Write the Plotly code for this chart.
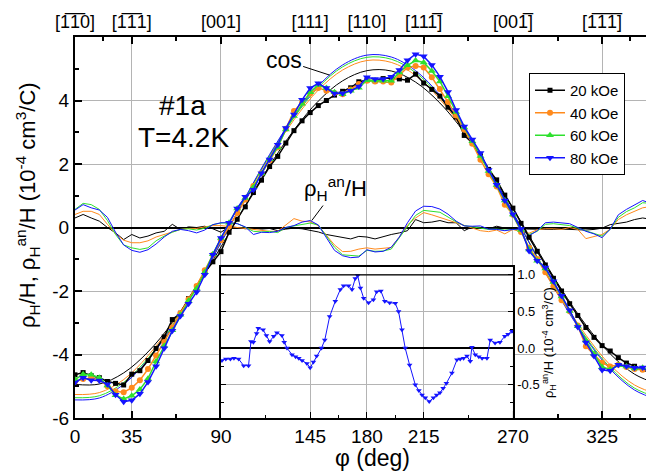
import plotly.graph_objects as go

# ---------------- data ----------------
PHI = list(range(0, 360, 5))          # angle grid of the measured curves (deg)
PHI_FIT = list(range(0, 361, 15))     # angle grid of the cos-fit curves (deg)
FIELDS = ["20 kOe", "40 kOe", "60 kOe", "80 kOe"]

DATA_20 = [-4.64, -4.57, -4.67, -4.73, -4.85, -4.91, -4.96, -4.62, -4.51, -4.19,
           -3.81, -3.45, -2.90, -2.70, -2.24, -1.87, -1.42, -1.08, -0.76, -0.15,
           0.26, 0.65, 1.10, 1.49, 1.92, 2.24, 2.66, 3.05, 3.36, 3.62,
           3.84, 4.00, 4.17, 4.29, 4.40, 4.59, 4.64, 4.62, 4.69, 4.71,
           4.68, 4.64, 4.83, 4.55, 4.35, 4.14, 3.79, 3.48, 2.90, 2.66,
           2.26, 1.83, 1.50, 1.02, 0.61, 0.13, -0.31, -0.75, -1.18, -1.60,
           -2.00, -2.40, -2.77, -3.15, -3.46, -3.72, -3.89, -4.10, -4.27, -4.37,
           -4.46, -4.61]
DATA_40 = [-4.85, -4.77, -4.75, -4.79, -5.00, -5.16, -5.19, -5.05, -4.81, -4.46,
           -4.03, -3.61, -3.15, -2.70, -2.26, -1.84, -1.35, -0.86, -0.40, 0.03,
           0.46, 0.88, 1.31, 1.71, 2.11, 2.52, 3.11, 3.67, 3.93, 4.22,
           4.39, 4.31, 4.24, 4.20, 4.35, 4.52, 4.62, 4.60, 4.60, 4.57,
           4.80, 5.04, 5.09, 5.04, 4.73, 4.36, 3.95, 3.53, 3.09, 2.64,
           2.13, 1.68, 1.29, 0.72, 0.40, -0.14, -0.64, -0.99, -1.41, -1.85,
           -2.29, -2.64, -3.09, -3.74, -4.01, -4.26, -4.38, -4.32, -4.39, -4.46,
           -4.48, -4.54]
DATA_60 = [-4.79, -4.62, -4.64, -4.73, -4.98, -5.28, -5.40, -5.30, -5.10, -4.76,
           -4.22, -3.73, -3.24, -2.75, -2.31, -1.92, -1.41, -0.84, -0.33, 0.15,
           0.60, 0.93, 1.27, 1.70, 2.15, 2.53, 3.09, 3.51, 3.90, 4.26,
           4.49, 4.39, 4.26, 4.20, 4.31, 4.40, 4.64, 4.63, 4.62, 4.62,
           4.88, 5.11, 5.26, 5.20, 4.93, 4.60, 4.13, 3.64, 3.15, 2.72,
           2.25, 1.78, 1.34, 0.85, 0.41, -0.08, -0.69, -1.05, -1.29, -1.72,
           -2.17, -2.63, -3.11, -3.56, -3.98, -4.39, -4.47, -4.34, -4.38, -4.44,
           -4.42, -4.54]
DATA_80 = [-4.88, -4.73, -4.81, -4.82, -4.94, -5.27, -5.49, -5.44, -5.24, -4.87,
           -4.37, -3.80, -3.25, -2.79, -2.40, -2.03, -1.49, -0.86, -0.33, 0.15,
           0.60, 0.97, 1.19, 1.71, 2.14, 2.61, 3.13, 3.56, 4.02, 4.39,
           4.54, 4.39, 4.22, 4.23, 4.31, 4.44, 4.73, 4.68, 4.68, 4.75,
           4.96, 5.27, 5.46, 5.39, 5.12, 4.75, 4.27, 3.70, 3.18, 2.77,
           2.35, 1.81, 1.35, 0.85, 0.42, -0.05, -0.74, -1.05, -1.26, -1.69,
           -2.15, -2.61, -3.13, -3.62, -4.05, -4.49, -4.51, -4.32, -4.37, -4.42,
           -4.41, -4.61]

AN_20 = [0.30, 0.41, 0.30, 0.20, 0.00, -0.17, -0.38, -0.22, -0.33, -0.27,
         -0.17, -0.12, 0.10, -0.06, 0.02, 0.00, 0.04, -0.04, -0.15, 0.02,
         0.00, -0.04, -0.02, -0.05, -0.03, -0.10, -0.05, -0.02, -0.04, -0.08,
         -0.14, -0.22, -0.27, -0.33, -0.36, -0.28, -0.30, -0.36, -0.28, -0.22,
         -0.17, -0.10, 0.25, 0.15, 0.17, 0.22, 0.15, 0.15, -0.10, 0.02,
         0.00, -0.04, 0.04, -0.02, 0.00, -0.04, -0.05, -0.06, -0.06, -0.06,
         -0.05, -0.06, -0.06, -0.08, -0.06, -0.02, 0.09, 0.12, 0.17, 0.25,
         0.30, 0.26]
AN_40 = [0.41, 0.51, 0.51, 0.41, 0.10, -0.20, -0.40, -0.48, -0.48, -0.42,
         -0.30, -0.22, -0.12, -0.06, -0.03, -0.03, 0.02, 0.06, 0.06, 0.03,
         0.00, -0.04, -0.06, -0.10, -0.12, -0.12, 0.08, 0.28, 0.20, 0.18,
         0.06, -0.26, -0.55, -0.76, -0.75, -0.68, -0.64, -0.68, -0.66, -0.63,
         -0.30, 0.08, 0.30, 0.47, 0.40, 0.32, 0.22, 0.14, 0.06, 0.00,
         -0.10, -0.13, -0.08, -0.20, -0.06, -0.14, -0.18, -0.07, -0.04, -0.04,
         -0.06, 0.00, -0.06, -0.35, -0.28, -0.22, -0.05, 0.25, 0.40, 0.50,
         0.62, 0.66]
AN_60 = [0.57, 0.76, 0.72, 0.57, 0.22, -0.22, -0.55, -0.64, -0.69, -0.64,
         -0.42, -0.27, -0.15, -0.06, -0.04, -0.08, -0.02, 0.09, 0.14, 0.15,
         0.13, 0.00, -0.12, -0.14, -0.12, -0.16, 0.00, 0.05, 0.10, 0.14,
         0.08, -0.27, -0.62, -0.86, -0.89, -0.90, -0.72, -0.75, -0.74, -0.68,
         -0.32, 0.05, 0.38, 0.54, 0.52, 0.48, 0.33, 0.18, 0.06, 0.03,
         -0.02, -0.06, -0.05, -0.08, -0.06, -0.08, -0.22, -0.12, 0.10, 0.12,
         0.10, 0.06, -0.02, -0.10, -0.18, -0.27, -0.06, 0.32, 0.50, 0.62,
         0.78, 0.76]
AN_80 = [0.55, 0.72, 0.62, 0.55, 0.32, -0.15, -0.55, -0.72, -0.78, -0.70,
         -0.52, -0.30, -0.12, -0.06, -0.10, -0.17, -0.08, 0.09, 0.15, 0.15,
         0.12, 0.02, -0.22, -0.15, -0.16, -0.12, 0.00, 0.06, 0.17, 0.22,
         0.08, -0.33, -0.72, -0.89, -0.95, -0.93, -0.70, -0.77, -0.75, -0.62,
         -0.30, 0.15, 0.52, 0.67, 0.66, 0.58, 0.42, 0.20, 0.05, 0.04,
         0.05, -0.05, -0.06, -0.10, -0.06, -0.05, -0.26, -0.10, 0.15, 0.17,
         0.15, 0.12, 0.00, -0.12, -0.20, -0.32, -0.05, 0.40, 0.57, 0.70,
         0.85, 0.76]

FIT_20 = [-4.94, -4.93, -4.58, -3.92, -3.00, -1.87, -0.61, 0.69, 1.95, 3.07, 3.98, 4.62, 4.94,
          4.93, 4.58, 3.92, 3.00, 1.87, 0.61, -0.69, -1.95, -3.07, -3.98, -4.62, -4.94]
FIT_40 = [-5.26, -5.20, -4.79, -4.04, -3.03, -1.81, -0.46, 0.92, 2.23, 3.39, 4.33, 4.96, 5.26,
          5.20, 4.79, 4.04, 3.03, 1.81, 0.46, -0.92, -2.23, -3.39, -4.33, -4.96, -5.26]
FIT_60 = [-5.36, -5.30, -4.88, -4.12, -3.09, -1.84, -0.47, 0.93, 2.27, 3.46, 4.41, 5.06, 5.36,
          5.30, 4.88, 4.12, 3.09, 1.84, 0.47, -0.93, -2.27, -3.46, -4.41, -5.06, -5.36]
FIT_80 = [-5.43, -5.37, -4.94, -4.17, -3.13, -1.86, -0.48, 0.95, 2.30, 3.50, 4.46, 5.12, 5.43,
          5.37, 4.94, 4.17, 3.13, 1.86, 0.48, -0.95, -2.30, -3.50, -4.46, -5.12, -5.43]

INSET_PHI = [90.6, 93, 95.8, 98, 100.9, 104, 107, 108.5, 110, 112, 113, 116, 118, 120, 122.5,
             124.5, 127.6, 129, 130.7, 133.8, 136, 138, 140, 143, 145, 147, 149, 152, 154, 157,
             160.5, 163.6, 165.6, 168.7, 170.8, 172.8, 174.3, 176, 178, 181, 184, 186, 188.6,
             191, 194, 197.5, 199.5, 201.6, 203.6, 206.3, 209.8, 212, 214, 216, 218.4, 221,
             223, 225, 227, 229, 232.4, 235.5, 237.5, 239.6, 241.7, 243.7, 244.7, 246.8, 249,
             251, 254, 256, 259, 262, 265, 267, 269.4]
INSET_AN = [-0.17, -0.15, -0.15, -0.14, -0.15, -0.24, -0.24, 0.09, 0.08, 0.20, 0.27, 0.25, 0.17,
            0.09, 0.16, 0.21, 0.17, 0.08, 0.00, -0.09, -0.12, -0.14, -0.17, -0.21, -0.27, -0.19,
            -0.11, 0.00, 0.11, 0.43, 0.64, 0.80, 0.85, 0.85, 0.80, 0.95, 0.99, 0.82, 0.68, 0.62,
            0.66, 0.77, 0.78, 0.64, 0.62, 0.61, 0.50, 0.25, 0.00, -0.23, -0.50, -0.58, -0.64,
            -0.68, -0.73, -0.68, -0.64, -0.61, -0.55, -0.48, -0.34, -0.16, -0.15, -0.14, -0.11,
            -0.18, 0.01, -0.09, -0.12, -0.14, -0.14, 0.11, 0.07, 0.08, 0.16, 0.19, 0.23]

X_TICKS = [0, 35, 90, 145, 180, 215, 270, 325]
X_MINOR = [17.5, 62.5, 117.5, 162.5, 197.5, 242.5, 297.5, 342.5]
X_LABELS = ["0", "35", "90", "145", "180", "215", "270", "325"]
OB = "\u0305"
TOP_LABELS = ["[1" + OB + "1" + OB + "0]", "[1" + OB + "1" + OB + "1]", "[001]", "[111]",
              "[110]", "[111" + OB + "]", "[001" + OB + "]", "[1" + OB + "1" + OB + "1" + OB + "]"]
Y_TICKS = [-6, -4, -2, 0, 2, 4]
Y_LABELS = ["-6", "-4", "-2", "0", "2", "4"]
INSET_X_TICKS = [145, 180, 215]
INSET_Y_TICKS = [-0.5, 0.0, 0.5, 1.0]
INSET_Y_LABELS = ["-0.5", "0.0", "0.5", "1.0"]

# ---------------- styling ----------------
FONT = "Liberation Sans, Arial, Helvetica, sans-serif"
COLORS = ["#000000", "#ff8a1c", "#2ee02e", "#1414ff"]
SYMBOLS = ["square", "circle", "triangle-up", "triangle-down"]
MSIZES = [5, 6, 7, 7]
GRID = "#b4b4b4"
PAGE_OFF = 8                      # default body margin of the html page
W, H = 654 - PAGE_OFF, 475 - PAGE_OFF
ML, MR, MT, MB = 75 - PAGE_OFF, 0, 37 - PAGE_OFF, 57
XMAX = 357
INSET_X = (90, 270)
INSET_YR = (-0.955, 1.105)
INSET_TOP = 0.396
PW, PH = W - ML - MR, H - MT - MB


def px_x(p):   # page pixel -> paper x
    return (p - PAGE_OFF - ML) / PW


def px_y(p):   # page pixel -> paper y
    return (H - MB - (p - PAGE_OFF)) / PH


fig = go.Figure()
fits = [FIT_20, FIT_40, FIT_60, FIT_80]
ans = [AN_20, AN_40, AN_60, AN_80]
datas = [DATA_20, DATA_40, DATA_60, DATA_80]

for fit, col in zip(fits, COLORS):
    fig.add_trace(go.Scatter(x=PHI_FIT, y=fit, mode="lines", showlegend=False,
                             line=dict(color=col, width=1, shape="spline")))
for an, col in zip(ans, COLORS):
    fig.add_trace(go.Scatter(x=PHI, y=an, mode="lines", showlegend=False,
                             line=dict(color=col, width=1)))
for name, d, col, sym, ms in zip(FIELDS, datas, COLORS, SYMBOLS, MSIZES):
    fig.add_trace(go.Scatter(x=PHI, y=d, mode="lines+markers", name=name,
                             line=dict(color=col, width=1.5),
                             marker=dict(symbol=sym, size=ms, color=col, line=dict(width=0))))

fig.add_trace(go.Scatter(x=INSET_PHI, y=INSET_AN, mode="lines+markers", showlegend=False,
                         xaxis="x2", yaxis="y2",
                         line=dict(color=COLORS[3], width=1),
                         marker=dict(symbol="triangle-down", size=5, color=COLORS[3])))
# carrier for the top (crystal direction) axis
fig.add_trace(go.Scatter(x=[X_TICKS[0]], y=[None], xaxis="x3", yaxis="y", mode="markers",
                         showlegend=False, hoverinfo="skip"))

axis_common = dict(ticks="inside", showline=True, linecolor="black", tickcolor="black",
                   tickfont=dict(family=FONT, size=19, color="black"))

fig.update_layout(
    width=W, height=H,
    margin=dict(l=ML, r=MR, t=MT, b=MB),
    paper_bgcolor="white", plot_bgcolor="white",
    font=dict(family=FONT, color="black"),
    xaxis=dict(range=[0, XMAX], domain=[0, 1], tickmode="array", tickvals=X_TICKS,
               ticktext=X_LABELS, ticklen=7, tickwidth=1.5, linewidth=2,
               showgrid=True, gridcolor=GRID, gridwidth=1.2, zeroline=False,
               minor=dict(tickvals=X_MINOR, ticks="inside", ticklen=4, tickcolor="black",
                          showgrid=False),
               **axis_common),
    xaxis3=dict(range=[0, XMAX], overlaying="x", side="top", anchor="y",
                tickmode="array", tickvals=X_TICKS, ticktext=TOP_LABELS, ticklen=7,
                tickwidth=1.5, linewidth=2, showgrid=False, zeroline=False,
                minor=dict(tickvals=X_MINOR, ticks="inside", ticklen=4, tickcolor="black"),
                ticks="inside", showline=True, linecolor="black", tickcolor="black",
                tickfont=dict(family=FONT, size=18, color="black")),
    yaxis=dict(range=[-6, 6], domain=[0, 1], tickmode="array", tickvals=Y_TICKS,
               ticktext=Y_LABELS, ticklen=7, tickwidth=1.5, linewidth=2,
               showgrid=True, gridcolor=GRID, gridwidth=1.2,
               zeroline=True, zerolinecolor="black", zerolinewidth=2,
               minor=dict(dtick=1, ticks="inside", ticklen=4, tickcolor="black",
                          showgrid=False),
               **axis_common),
    xaxis2=dict(domain=[INSET_X[0] / XMAX, INSET_X[1] / XMAX], anchor="y2",
                range=list(INSET_X), tickmode="array", tickvals=INSET_X_TICKS,
                showticklabels=False, ticks="inside", ticklen=6, tickcolor="black",
                showline=True, mirror=True, linecolor="black", linewidth=1.5,
                showgrid=True, gridcolor=GRID, gridwidth=1.2, zeroline=False,
                minor=dict(tickvals=[117.5, 162.5, 197.5, 242.5], ticks="inside",
                           ticklen=3, tickcolor="black")),
    yaxis2=dict(domain=[0, INSET_TOP], anchor="x2", side="right", range=list(INSET_YR),
                tickmode="array", tickvals=INSET_Y_TICKS, ticktext=INSET_Y_LABELS,
                ticks="inside", ticklen=5, tickcolor="black",
                showline=True, mirror="ticks", linecolor="black", linewidth=1.5,
                showgrid=True, gridcolor=GRID, gridwidth=1.2,
                zeroline=True, zerolinecolor="black", zerolinewidth=1.5,
                minor=dict(dtick=0.25, ticks="inside", ticklen=3, tickcolor="black"),
                tickfont=dict(family=FONT, size=13, color="black"),
                title=dict(text="ρ<sub>H</sub><sup>an</sup>/H (10<sup>-4</sup> cm<sup>3</sup>/C)",
                           font=dict(family=FONT, size=13, color="black"), standoff=4)),
    legend=dict(x=px_x(529), y=px_y(73), xanchor="left", yanchor="top",
                bgcolor="white", bordercolor="black", borderwidth=1,
                font=dict(family=FONT, size=15, color="black"), tracegroupgap=0),
    showlegend=True,
)

# horizontal black line at 1.0 of the inset
fig.add_shape(type="line", xref="x2", yref="y2", x0=INSET_X[0], x1=INSET_X[1], y0=1.0, y1=1.0,
              line=dict(color="black", width=1.2), layer="above")

fig.add_annotation(text="ρ<sub>H</sub>/H, ρ<sub>H</sub><sup>an</sup>/H (10<sup>-4</sup> cm<sup>3</sup>/C)",
                   xref="paper", yref="paper", x=px_x(27), y=px_y(205),
                   xanchor="center", yanchor="middle",
                   textangle=-90, showarrow=False, font=dict(family=FONT, size=22))
fig.add_annotation(text="φ (deg)", xref="paper", yref="paper", x=px_x(372), y=px_y(458),
                   xanchor="center", yanchor="middle",
                   showarrow=False, font=dict(family=FONT, size=23))
fig.add_annotation(text="#1a", x=66.5, y=3.85, showarrow=False, font=dict(family=FONT, size=28))
fig.add_annotation(text="T=4.2K", x=67, y=2.85, showarrow=False, font=dict(family=FONT, size=28))
fig.add_annotation(text="cos", x=157, y=4.8, ax=-46, ay=-15, showarrow=True, arrowhead=0,
                   arrowwidth=1, arrowcolor="black", font=dict(family=FONT, size=23))
fig.add_annotation(text="ρ<sub>H</sub><sup>an</sup>/H", x=146, y=0.22, ax=24, ay=-32,
                   showarrow=True, arrowhead=0, arrowwidth=1, arrowcolor="black",
                   font=dict(family=FONT, size=22))

fig.write_html("out.html")
